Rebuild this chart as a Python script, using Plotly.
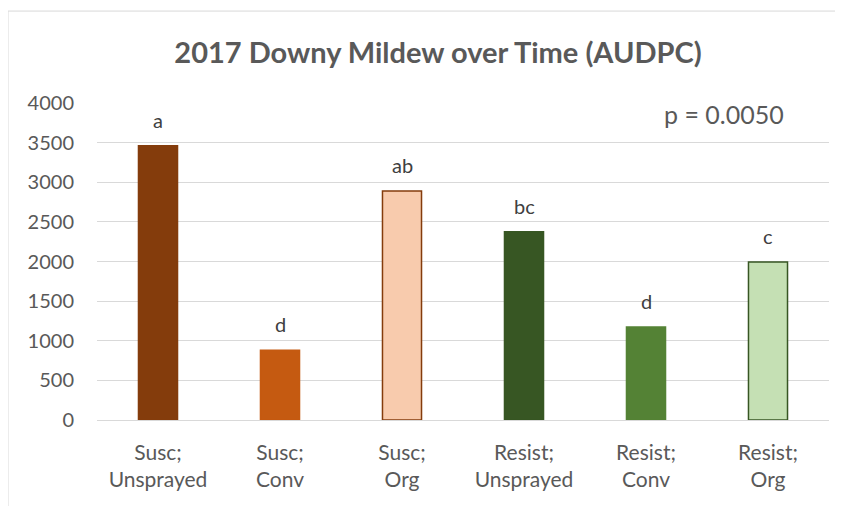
import plotly.graph_objects as go

categories = ["Susc;<br>Unsprayed", "Susc;<br>Conv", "Susc;<br>Org",
              "Resist;<br>Unsprayed", "Resist;<br>Conv", "Resist;<br>Org"]
audpc = [3460, 880, 2890, 2375, 1175, 1995]
letters = ["a", "d", "ab", "bc", "d", "c"]
fill_colors = ["#843C0C", "#C55A11", "#F8CBAD", "#375623", "#548235", "#C5E0B4"]
line_colors = ["#843C0C", "#C55A11", "#843C0C", "#375623", "#548235", "#375623"]
y_ticks = [0, 500, 1000, 1500, 2000, 2500, 3000, 3500, 4000]

FONT = "Lato, 'Open Sans', sans-serif"

fig = go.Figure()
fig.add_trace(go.Bar(
    x=categories, y=audpc,
    marker=dict(color=fill_colors, line=dict(color=line_colors, width=1.5)),
    width=0.32, hoverinfo="skip",
))

for c, v, l in zip(categories, audpc, letters):
    fig.add_annotation(x=c, y=v, text=l, showarrow=False, yshift=26,
                       font=dict(family=FONT, size=20, color="#404040"))

fig.add_annotation(xref="paper", yref="paper", x=0.856, y=0.965, text="p = 0.0050",
                   showarrow=False, xanchor="center", yanchor="middle",
                   font=dict(family=FONT, size=25, color="#595959"))

# chart-area border (left and top edges visible in the crop)
fig.add_shape(type="line", xref="paper", yref="paper",
              x0=-0.1216, x1=1.3, y0=1.290, y1=1.290,
              line=dict(color="#D9D9D9", width=1), layer="below")
fig.add_shape(type="line", xref="paper", yref="paper",
              x0=-0.1216, x1=-0.1216, y0=-0.6, y1=1.290,
              line=dict(color="#D9D9D9", width=1), layer="below")

fig.update_layout(
    width=835, height=498,
    margin=dict(l=89, r=14, t=95, b=86),
    paper_bgcolor="white", plot_bgcolor="white",
    showlegend=False,
    title=dict(text="<b>2017 Downy Mildew over Time (AUDPC)</b>",
               x=0.515, xanchor="center", y=0.91, yanchor="middle",
               font=dict(family=FONT, size=29, color="#595959")),
    font=dict(family=FONT, size=20, color="#595959"),
    xaxis=dict(showgrid=False, showline=False, ticks="", tickfont=dict(size=21, color="#595959"),
               ticklabelstandoff=18, fixedrange=True),
    yaxis=dict(range=[0, 4000], tickvals=y_ticks, showgrid=True, gridcolor="#D9D9D9",
               gridwidth=1, zeroline=True, zerolinecolor="#D9D9D9", zerolinewidth=1,
               ticks="", ticklabelstandoff=22, tickfont=dict(size=20, color="#595959"),
               fixedrange=True),
)

fig.write_html("out.html")
